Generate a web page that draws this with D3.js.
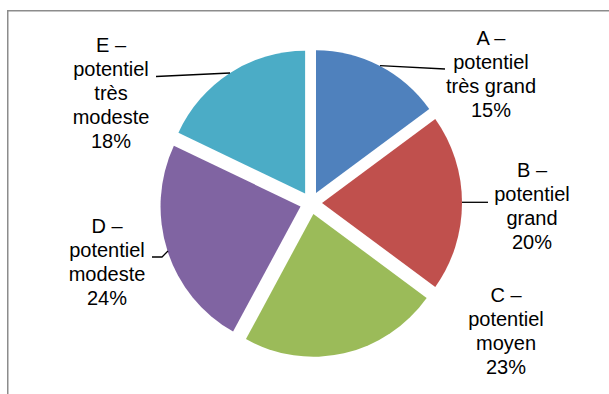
<!DOCTYPE html>
<html>
<head>
<meta charset="utf-8">
<script src="https://cdn.jsdelivr.net/npm/d3@7"></script>
<style>
  html, body { margin: 0; padding: 0; background: #fff; }
  svg { display: block; }
  text { font-family: "Liberation Sans", Arial, sans-serif; font-size: 20px; fill: #000; }
</style>
</head>
<body>
<svg id="chart" width="609" height="394"></svg>
<script>
// Potential classes and their shares (%)
const categories = ["A", "B", "C", "D", "E"];
const values = [15, 20, 23, 24, 18];
const labelLines = [
  ["A –", "potentiel", "très grand", "15%"],
  ["B –", "potentiel", "grand", "20%"],
  ["C –", "potentiel", "moyen", "23%"],
  ["D –", "potentiel", "modeste", "24%"],
  ["E –", "potentiel", "très", "modeste", "18%"]
];
const colors = ["#4F81BD", "#C0504D", "#9BBB59", "#8064A2", "#4BACC6"];

const W = 609, H = 394;
const cx = 311, cy = 203;       // pie centre
const radius = 140;
const explode = 11;             // every slice pulled out from the centre
const yStretch = 1.02;

// label anchor (centre x, first baseline) and leader lines
const labelPos = [[491, 45], [532, 177], [506, 302], [107, 233], [111, 52]];
const leaders = [
  [[380, 65.7], [445, 69]],
  [[462, 202.3], [488, 202.3]],
  null,
  [[152, 257], [162, 257], [168, 251]],
  [[156, 76.5], [230, 73]]
];

const svg = d3.select("#chart");

// chart-area frame
svg.append("rect")
  .attr("x", 7.75).attr("y", 10.75)
  .attr("width", W).attr("height", H)
  .attr("fill", "none")
  .attr("stroke", "#8c8c8c")
  .attr("stroke-width", 1.5);

const pie = d3.pie().sort(null).value(d => d)
  .startAngle(0).endAngle(2 * Math.PI);
const arcs = pie(values);
const arc = d3.arc().innerRadius(0).outerRadius(radius);

const g = svg.append("g")
  .attr("transform", `translate(${cx},${cy}) scale(1,${yStretch})`);

g.selectAll("path.slice")
  .data(arcs)
  .join("path")
  .attr("class", "slice")
  .attr("d", arc)
  .attr("fill", (d, i) => colors[i])
  .attr("transform", d => {
    const a = (d.startAngle + d.endAngle) / 2;
    return `translate(${explode * Math.sin(a)},${-explode * Math.cos(a)})`;
  });

// leader lines
const line = d3.line();
svg.selectAll("path.leader")
  .data(leaders.filter(d => d))
  .join("path")
  .attr("class", "leader")
  .attr("d", d => line(d))
  .attr("fill", "none")
  .attr("stroke", "#000")
  .attr("stroke-width", 1.3);

// data labels
const labels = svg.selectAll("text.lbl")
  .data(categories)
  .join("text")
  .attr("class", "lbl")
  .attr("text-anchor", "middle")
  .attr("x", (d, i) => labelPos[i][0])
  .attr("y", (d, i) => labelPos[i][1]);

labels.each(function(d, i) {
  d3.select(this).selectAll("tspan")
    .data(labelLines[i])
    .join("tspan")
    .attr("x", labelPos[i][0])
    .attr("dy", (t, j) => j === 0 ? 0 : 24)
    .text(t => t);
});
</script>
</body>
</html>
